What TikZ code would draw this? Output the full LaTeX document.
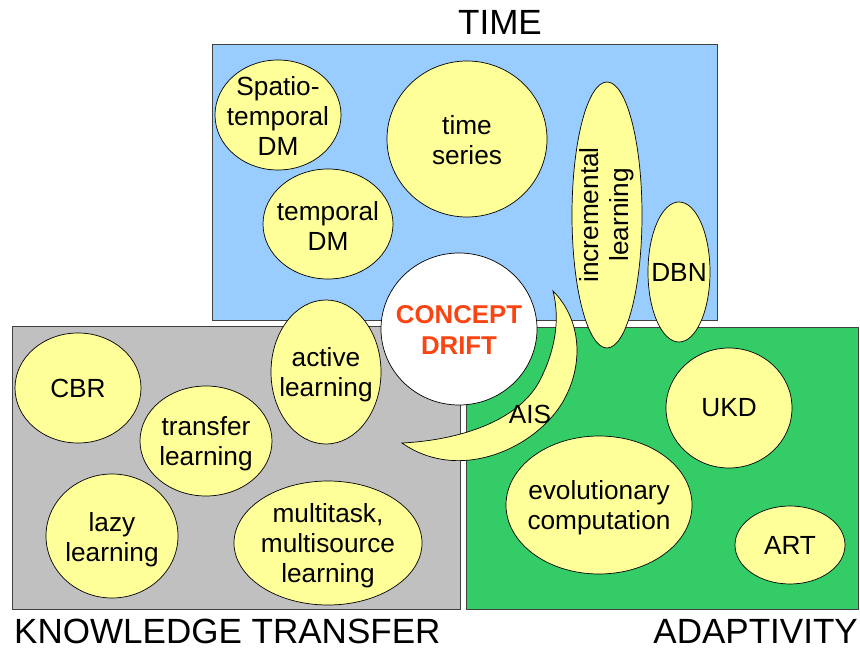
\documentclass[tikz,border=0pt]{standalone}
\usepackage{fontspec}
\setmainfont{Liberation Sans}
\definecolor{timeblue}{HTML}{99CCFF}
\definecolor{ktgray}{HTML}{C0C0C0}
\definecolor{adgreen}{HTML}{33CC66}
\definecolor{blobyellow}{HTML}{FFFF99}
\definecolor{driftred}{RGB}{250,68,18}
\definecolor{edgegray}{HTML}{404040}
\tikzset{
  area/.style={draw=edgegray, line width=0.7pt},
  blobline/.style={draw=black, line width=0.6pt, fill=blobyellow},
  blobtext/.style={inner sep=0pt, align=center, font=\fontsize{22.4}{25.5}\selectfont},
  title/.style={inner sep=0pt, font=\fontsize{29.9}{32}\selectfont}
}
\begin{document}
\begin{tikzpicture}[x=0.03cm, y=-0.03cm]
\useasboundingbox (0,0) rectangle (860,649);
% areas
\draw[area, fill=timeblue] (212,44) rectangle (717,320);
\draw[area, fill=ktgray] (12,326) rectangle (460,609);
\draw[area, fill=adgreen] (466,327) rectangle (858,609);
% titles
\node[title] (tTime) at (500,22) {TIME};
\node[title, anchor=west] (tKT) at (14,631) {KNOWLEDGE TRANSFER};
\node[title, anchor=east] (tAd) at (858,631) {ADAPTIVITY};
% TIME blobs
\draw[blobline] (278,115) ellipse [x radius=63, y radius=55];
\node[blobtext] (spatio) at (278,116) {Spatio-\\temporal\\DM};
\draw[blobline] (328,224) ellipse [x radius=65, y radius=55];
\node[blobtext] (temporal) at (328,226) {temporal\\DM};
\draw[blobline] (467,139) ellipse [x radius=80, y radius=78];
\node[blobtext] (series) at (467,140) {time\\series};
\draw[blobline] (607,215) ellipse [x radius=35, y radius=133];
\node[blobtext, rotate=90] (incr) at (607,215) {incremental\\learning};
\draw[blobline] (679,272) ellipse [x radius=31, y radius=70];
\node[blobtext] (dbn) at (679,272) {DBN};
% AIS crescent
\draw[blobline] (553,291)
  .. controls (580,318) and (584,360) .. (566,396)
  .. controls (542,445) and (462,485) .. (402,443)
  .. controls (462,440) and (518,420) .. (539,382)
  .. controls (556,350) and (560,318) .. (553,291) -- cycle;
\node[blobtext] (ais) at (530,414) {AIS};
% knowledge transfer blobs
\draw[blobline] (326,372) ellipse [x radius=55, y radius=72];
\node[blobtext] (active) at (326,375) {active\\learning};
\draw[blobline] (78,388) ellipse [x radius=63, y radius=55];
\node[blobtext] (cbr) at (78,388) {CBR};
\draw[blobline] (206,441) ellipse [x radius=66, y radius=55];
\node[blobtext] (transfer) at (206,444) {transfer\\learning};
\draw[blobline] (112,536) ellipse [x radius=66, y radius=62];
\node[blobtext] (lazy) at (112,540) {lazy\\learning};
\draw[blobline] (328,543) ellipse [x radius=94, y radius=62];
\node[blobtext] (multi) at (328,546) {multitask,\\multisource\\learning};
% adaptivity blobs
\draw[blobline] (729,408) ellipse [x radius=63, y radius=60];
\node[blobtext] (ukd) at (729,408) {UKD};
\draw[blobline] (599,505) ellipse [x radius=93, y radius=69];
\node[blobtext] (evo) at (599,508) {evolutionary\\computation};
\draw[blobline] (790,545) ellipse [x radius=55, y radius=39];
\node[blobtext] (art) at (790,545) {ART};
% concept drift
\draw[draw=black, line width=0.6pt, fill=white] (459,329) ellipse [x radius=78, y radius=76];
\node[inner sep=0pt, align=center, text=driftred,
  font=\bfseries\fontsize{22}{26.4}\selectfont] (drift) at (459,330) {CONCEPT\\DRIFT};
\end{tikzpicture}
\end{document}
